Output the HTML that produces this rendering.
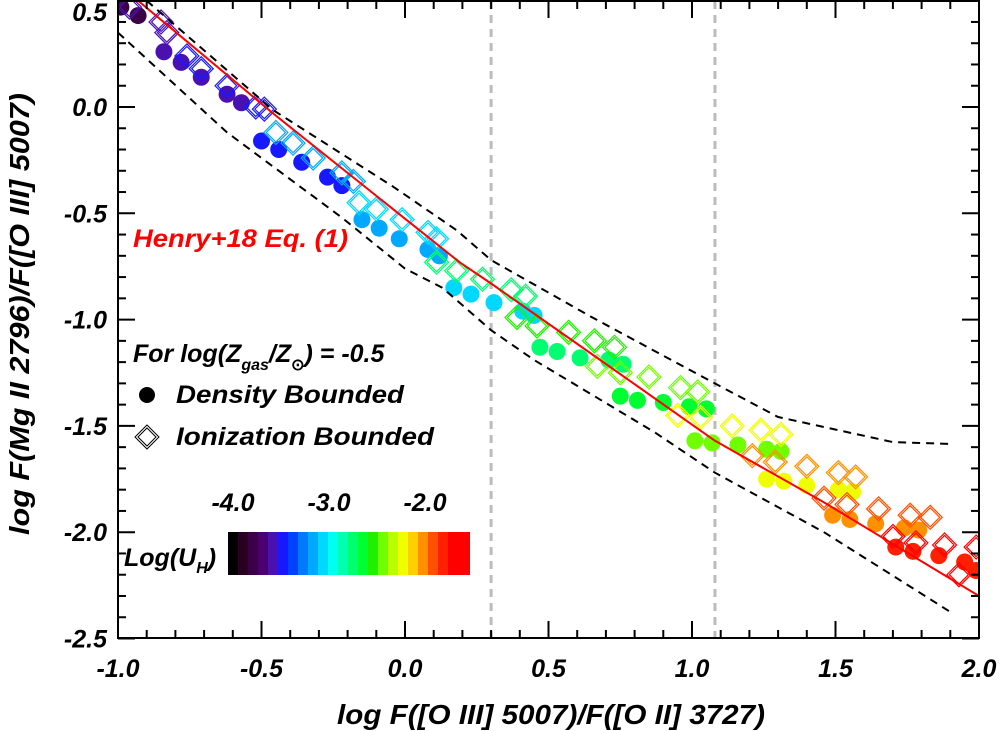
<!DOCTYPE html>
<html><head><meta charset="utf-8"><style>
html,body{margin:0;padding:0;background:#fff;}
svg{display:block;font-family:"Liberation Sans",sans-serif;font-weight:bold;font-style:italic;}
</style></head><body>
<svg id="chart" width="1000" height="731" viewBox="0 0 1000 731" xmlns="http://www.w3.org/2000/svg">
<defs><clipPath id="clip"><rect x="118" y="1" width="861" height="637"/></clipPath></defs>
<g id="plot" clip-path="url(#clip)"></g>
<g id="axes"></g>
<g id="legend">
<text x="133" y="247" font-size="25" fill="#ff0000" textLength="215" lengthAdjust="spacingAndGlyphs">Henry+18 Eq. (1)</text>
<text x="133" y="362" font-size="25">For log(Z<tspan font-size="16" dy="8">gas</tspan><tspan dy="-8">/Z</tspan><tspan font-size="16" dy="8" font-style="normal">⊙</tspan><tspan dy="-8">) = -0.5</tspan></text>
<circle cx="147" cy="395" r="8" fill="#000"/>
<text x="176" y="403" font-size="25" textLength="228" lengthAdjust="spacingAndGlyphs">Density Bounded</text>
<path d="M147 425 L159 437 L147 449 L135 437 Z M147 428 L156 437 L147 446 L138 437 Z" fill="none" stroke="#000" stroke-width="1"/>
<text x="176" y="445" font-size="25" textLength="258" lengthAdjust="spacingAndGlyphs">Ionization Bounded</text>
</g>
<g id="cbar"></g>
<text x="551" y="724" font-size="28" text-anchor="middle" textLength="428" lengthAdjust="spacingAndGlyphs">log F([O III] 5007)/F([O II] 3727)</text>
<text transform="translate(29,314) rotate(-90)" font-size="28" text-anchor="middle" textLength="442" lengthAdjust="spacingAndGlyphs">log F(Mg II 2796)/F([O III] 5007)</text>
</svg>
<script>
const NS="http://www.w3.org/2000/svg";
// ---- data ----
const circX=[-0.99,-0.93,-0.84,-0.78,-0.71,-0.62,-0.57,-0.50,-0.44,-0.36,-0.27,-0.22,-0.15,-0.09,-0.02,0.08,0.12,0.17,0.23,0.31,0.41,0.45,0.47,0.53,0.61,0.71,0.76,0.75,0.81,0.90,0.99,1.05,1.01,1.07,1.16,1.26,1.31,1.26,1.32,1.40,1.51,1.56,1.49,1.55,1.64,1.74,1.79,1.71,1.77,1.86,1.95,1.99];
const circY=[0.47,0.43,0.26,0.21,0.14,0.06,0.02,-0.16,-0.20,-0.26,-0.33,-0.37,-0.53,-0.57,-0.62,-0.67,-0.70,-0.85,-0.88,-0.92,-0.96,-0.98,-1.13,-1.15,-1.18,-1.19,-1.21,-1.36,-1.38,-1.39,-1.41,-1.42,-1.57,-1.58,-1.59,-1.61,-1.62,-1.75,-1.76,-1.78,-1.80,-1.81,-1.92,-1.94,-1.96,-1.98,-1.99,-2.07,-2.09,-2.11,-2.14,-2.18];
const circU=[-3.75,-3.75,-3.6,-3.6,-3.6,-3.6,-3.6,-3.45,-3.45,-3.45,-3.45,-3.45,-3.2,-3.2,-3.2,-3.2,-3.2,-3.05,-3.05,-3.05,-3.05,-3.05,-2.75,-2.75,-2.75,-2.75,-2.75,-2.6,-2.6,-2.6,-2.6,-2.6,-2.4,-2.4,-2.4,-2.4,-2.4,-2.22,-2.22,-2.22,-2.22,-2.22,-2.05,-2.05,-2.05,-2.05,-2.05,-1.8,-1.8,-1.8,-1.8,-1.8];
const diaX=[-0.96,-0.85,-0.83,-0.76,-0.71,-0.62,-0.52,-0.49,-0.45,-0.39,-0.32,-0.22,-0.18,-0.16,-0.10,-0.01,0.08,0.11,0.11,0.18,0.27,0.37,0.42,0.39,0.46,0.57,0.66,0.73,0.67,0.75,0.85,0.96,1.02,0.95,1.03,1.14,1.24,1.31,1.21,1.29,1.40,1.51,1.57,1.46,1.54,1.65,1.76,1.83,1.70,1.78,1.88,1.93,1.99];
const diaY=[0.47,0.40,0.35,0.24,0.18,0.10,0.00,-0.01,-0.12,-0.17,-0.24,-0.31,-0.35,-0.45,-0.48,-0.53,-0.59,-0.62,-0.73,-0.77,-0.81,-0.86,-0.89,-0.99,-1.03,-1.06,-1.10,-1.13,-1.22,-1.25,-1.27,-1.32,-1.34,-1.45,-1.46,-1.50,-1.52,-1.54,-1.64,-1.67,-1.69,-1.72,-1.74,-1.84,-1.87,-1.89,-1.92,-1.93,-2.02,-2.05,-2.06,-2.20,-2.07];
const diaU=[-3.6,-3.6,-3.6,-3.45,-3.45,-3.45,-3.45,-3.45,-3.2,-3.2,-3.2,-3.2,-3.2,-3.05,-3.05,-3.05,-3.05,-3.05,-2.8,-2.8,-2.8,-2.8,-2.8,-2.55,-2.55,-2.55,-2.55,-2.55,-2.4,-2.4,-2.4,-2.4,-2.4,-2.2,-2.2,-2.2,-2.2,-2.2,-2.05,-2.05,-2.05,-2.05,-2.05,-1.9,-1.9,-1.9,-1.9,-1.9,-1.75,-1.75,-1.75,-1.75,-1.75];
const henryX=[-1.0,-0.93,-0.46,0.19,0.30,0.68,1.08,1.46,2.0];
const henryY=[0.58,0.50,-0.03,-0.73,-0.83,-1.19,-1.57,-1.86,-2.30];
const upperX=[-0.9,-0.46,-0.04,0.18,0.30,0.65,1.077,1.30,1.70,1.906];
const upperY=[0.50,-0.014,-0.376,-0.58,-0.72,-0.988,-1.298,-1.458,-1.576,-1.585];
const lowerX=[-1.0,-0.62,-0.22,0.0,0.13,0.30,0.45,0.87,1.08,1.46,1.906];
const lowerY=[0.35,-0.12,-0.52,-0.76,-0.85,-1.05,-1.19,-1.53,-1.72,-2.0,-2.38];
const vlineX=[0.3,1.08];
const xTicks=[-1.0,-0.5,0.0,0.5,1.0,1.5,2.0];
const xTickLabels=["-1.0","-0.5","0.0","0.5","1.0","1.5","2.0"];
const yTicks=[0.5,0.0,-0.5,-1.0,-1.5,-2.0,-2.5];
const yTickLabels=["0.5","0.0","-0.5","-1.0","-1.5","-2.0","-2.5"];
const cbarColors=["#000000","#2a0020","#3c0048","#4a0070","#4a10b0","#1818ff","#0040ff","#0078ff","#00a8ff","#00d8ff","#00fff0","#00ffb0","#00ff70","#00ff30","#20f000","#70ff00","#b8ff00","#f0ff00","#ffd000","#ff9000","#ff5000","#ff2000","#ff0000","#ff0000"];
const cbarTicks=[-4.0,-3.0,-2.0];
const cbarTickLabels=["-4.0","-3.0","-2.0"];
// ---- scales ----
const X=v=>118+(v+1)*287;
const Y=v=>107-v*212.6;
const CB=u=>228+(u+4.0)*96;
function ucolor(u){let i=Math.round((u+4.0)/0.104);i=Math.max(0,Math.min(cbarColors.length-1,i));return cbarColors[i];}
function el(t,a,p){const e=document.createElementNS(NS,t);for(const k in a)e.setAttribute(k,a[k]);p.appendChild(e);return e;}
const plot=document.getElementById('plot'),axes=document.getElementById('axes'),cbar=document.getElementById('cbar');
vlineX.forEach((v,i)=>{const l=el('line',{x1:X(v),x2:X(v),y1:1,y2:638,stroke:'#bbb','stroke-width':3,'stroke-dasharray':'8 6'},plot);

});
function poly(xs,ys){return xs.map((x,i)=>X(x).toFixed(1)+','+Y(ys[i]).toFixed(1)).join(' ');}
circX.forEach((x,i)=>{const c=el('circle',{cx:X(x),cy:Y(circY[i]),r:8.5,fill:ucolor(circU[i])},plot);

});
diaX.forEach((x,i)=>{const cx=X(x),cy=Y(diaY[i]);
const d=`M${cx} ${cy-12} L${cx+12} ${cy} L${cx} ${cy+12} L${cx-12} ${cy} Z M${cx} ${cy-9.5} L${cx+9.5} ${cy} L${cx} ${cy+9.5} L${cx-9.5} ${cy} Z`;
const p=el('path',{d:d,fill:'none',stroke:ucolor(diaU[i]),'stroke-width':1.2},plot);

});
const up=el('polyline',{points:poly(upperX,upperY),fill:'none',stroke:'#000','stroke-width':2,'stroke-dasharray':'8 6'},plot);


const lo=el('polyline',{points:poly(lowerX,lowerY),fill:'none',stroke:'#000','stroke-width':2,'stroke-dasharray':'8 6'},plot);


const hr=el('polyline',{points:poly(henryX,henryY),fill:'none',stroke:'#ff0000','stroke-width':2,'stroke-linejoin':'round'},plot);


el('rect',{x:118,y:1,width:861,height:637,fill:'none',stroke:'#000','stroke-width':2},axes);
for(let k=-10;k<=20;k++){const v=k/10,x=X(v),major=(k%5===0),L=major?17:8;
el('line',{x1:x,x2:x,y1:638,y2:638-L,stroke:'#000','stroke-width':2},axes);
el('line',{x1:x,x2:x,y1:1,y2:1+L,stroke:'#000','stroke-width':2},axes);}
for(let k=-25;k<=5;k++){const v=k/10,y=Y(v),major=(k%5===0),L=major?17:8;
el('line',{x1:118,x2:118+L,y1:y,y2:y,stroke:'#000','stroke-width':2},axes);
el('line',{x1:979,x2:979-L,y1:y,y2:y,stroke:'#000','stroke-width':2},axes);}
xTicks.forEach((v,i)=>{const t=el('text',{x:X(v),y:677,'font-size':25,'text-anchor':'middle'},axes);t.textContent=xTickLabels[i];

});
yTicks.forEach((v,i)=>{const t=el('text',{x:107,y:Math.max(Y(v)+9,21),'font-size':25,'text-anchor':'end'},axes);t.textContent=yTickLabels[i];

});
cbarColors.forEach((c,i)=>{const x0=228+i*10;const r=el('rect',{x:x0,y:532,width:(i===cbarColors.length-1?12:10.5),height:43,fill:c},cbar);

});
cbarTicks.forEach((u,i)=>{const t=el('text',{x:CB(u)+5,y:511,'font-size':25,'text-anchor':'middle'},cbar);t.textContent=cbarTickLabels[i];

});
const cl=el('text',{x:124,y:566,'font-size':25},cbar);


cl.innerHTML='Log(U<tspan font-size="16" dy="7">H</tspan><tspan dy="-7">)</tspan>';
</script>
</body></html>
